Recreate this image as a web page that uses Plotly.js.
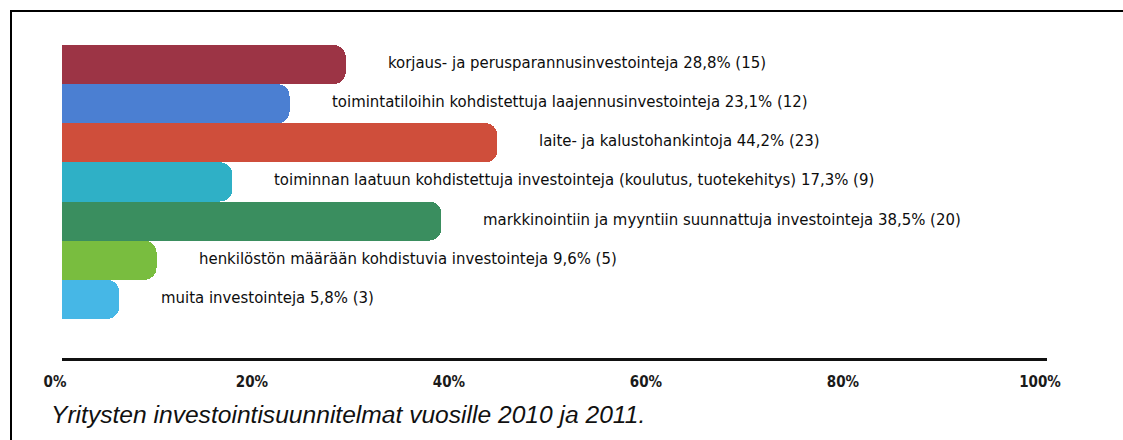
<!DOCTYPE html>
<html>
<head>
<meta charset="utf-8">
<script src="https://cdn.plot.ly/plotly-3.0.1.min.js"></script>
<style>
html,body{margin:0;padding:0;background:#fff;}
#frame{position:absolute;left:10px;top:10px;width:1113px;height:430px;border-top:2px solid #000;border-left:2px solid #000;}
#chart{position:absolute;left:0;top:0;width:1123px;height:440px;}
</style>
</head>
<body>
<div id="frame"></div>
<div id="chart"></div>
<script>
const categories = [
  "korjaus- ja perusparannusinvestointeja",
  "toimintatiloihin kohdistettuja laajennusinvestointeja",
  "laite- ja kalustohankintoja",
  "toiminnan laatuun kohdistettuja investointeja (koulutus, tuotekehitys)",
  "markkinointiin ja myyntiin suunnattuja investointeja",
  "henkilöstön määrään kohdistuvia investointeja",
  "muita investointeja"
];
const percentages = [28.8, 23.1, 44.2, 17.3, 38.5, 9.6, 5.8];
const counts = [15, 12, 23, 9, 20, 5, 3];
const barColors = ["#9c3445", "#4b7fd2", "#cf4e3b", "#2fb0c6", "#3a8e5f", "#79bd3f", "#46b7e6"];
const tickValues = [0, 20, 40, 60, 80, 100];
const tickLabels = ["0%", "20%", "40%", "60%", "80%", "100%"];
const caption = "Yritysten investointisuunnitelmat vuosille 2010 ja 2011.";

const fmt = v => v.toFixed(1).replace(".", ",");
const yIdx = categories.map((c, i) => i);

const trace = {
  type: "bar",
  orientation: "h",
  x: percentages,
  y: yIdx,
  marker: {color: barColors, cornerradius: 12, line: {width: 0}},
  hoverinfo: "skip",
  showlegend: false
};

const annotations = categories.map((c, i) => ({
  x: percentages[i], y: i, xref: "x", yref: "y",
  text: c + " " + fmt(percentages[i]) + "% (" + counts[i] + ")",
  showarrow: false, xanchor: "left", yanchor: "middle", xshift: 40, yshift: 2,
  font: {family: "DejaVu Sans Condensed", size: 16.6, color: "#0d0d0d"}
}));
annotations.push({
  xref: "paper", yref: "paper", x: -0.013, y: -0.18, xanchor: "left", yanchor: "middle",
  text: "<i>" + caption + "</i>", showarrow: false,
  font: {family: "Liberation Sans", size: 24.6, color: "#111"}
});

const layout = {
  width: 1123, height: 440,
  margin: {l: 62, r: 76, t: 45, b: 82, pad: 0},
  paper_bgcolor: "rgba(0,0,0,0)", plot_bgcolor: "rgba(0,0,0,0)",
  bargap: 0,
  xaxis: {
    range: [0, 100], tickvals: tickValues, ticktext: tickLabels,
    showgrid: false, zeroline: false, showline: true, linewidth: 3, linecolor: "#111",
    ticks: "", ticklabelstandoff: 8, ticklabelshift: -7,
    tickfont: {family: "DejaVu Sans Condensed", size: 15, weight: "bold", color: "#1a1a1a"}
  },
  yaxis: {
    range: [7.5, -0.5], showgrid: false, zeroline: false, showline: false,
    showticklabels: false, ticks: ""
  },
  annotations: annotations
};

Plotly.newPlot("chart", [trace], layout, {displayModeBar: false, staticPlot: true});
</script>
</body>
</html>
